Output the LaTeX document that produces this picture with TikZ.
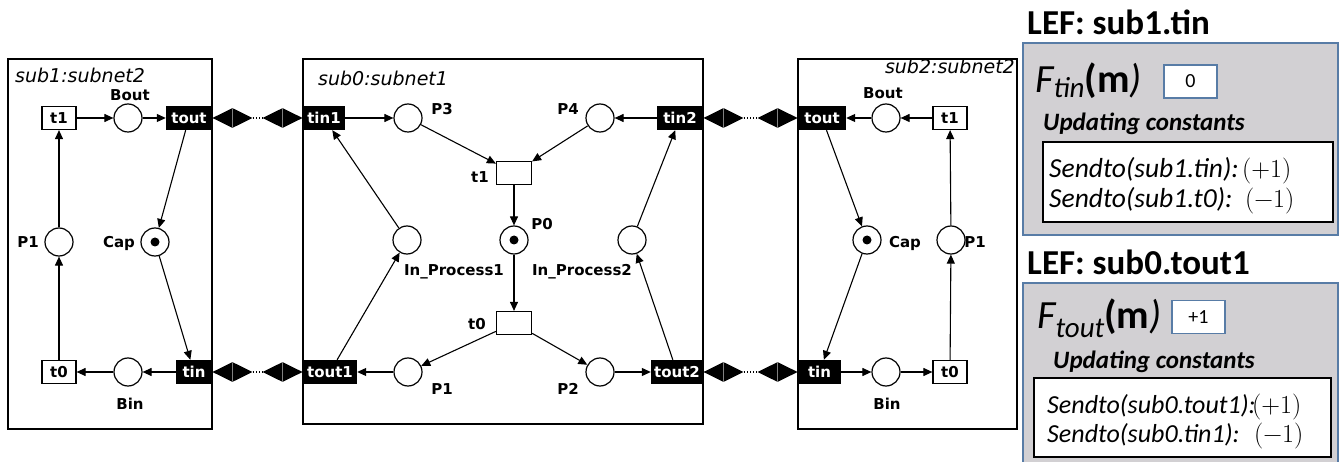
\documentclass[tikz,border=0pt]{standalone}
\usepackage[no-math]{fontspec}
\setmainfont{Carlito}
\newfontfamily\netfont{DejaVu Sans}
\newfontfamily\lmfont{Latin Modern Roman}
\usetikzlibrary{shapes.geometric,arrows.meta}
\newcommand\netlbl{\netfont\bfseries\fontsize{15}{15}\selectfont}
\newcommand\nettitle{\netfont\itshape\fontsize{19}{19}\selectfont}
\definecolor{lefgray}{RGB}{210,208,211}
\definecolor{lefblue}{RGB}{88,124,166}
\tikzset{
  place/.style={circle, draw, line width=1.2pt, minimum size=28pt, inner sep=0pt, fill=white},
  tokenplace/.style={place, path picture={\fill[black] (path picture bounding box.center) circle (4.5pt);}},
  trans/.style={rectangle, draw, line width=1.2pt, minimum width=34pt, minimum height=23pt, inner sep=0pt, fill=white, font=\netlbl},
  port/.style={rectangle, fill=black, text=white, minimum height=24pt, inner sep=0pt, font=\netlbl},
  lab/.style={font=\netlbl, inner sep=0pt, anchor=base},
  ttl/.style={font=\nettitle, inner sep=0pt},
  arc/.style={-{Triangle[length=9pt,width=8pt]}, line width=1.1pt},
  subnet/.style={draw, line width=1.3pt},
  link/.style={diamond, fill=black, minimum width=40pt, minimum height=20pt, inner sep=0pt,
    path picture={\draw[gray, line width=0.6pt] (path picture bounding box.north) -- (path picture bounding box.south);}},
  dots/.style={dotted, line width=1.2pt},
  lefbox/.style={fill=lefgray, draw=lefblue, line width=1.5pt},
  valbox/.style={draw=lefblue, fill=white, line width=1.5pt, minimum width=53pt, minimum height=33pt, inner sep=0pt, font=\fontsize{20}{20}\selectfont},
  constbox/.style={draw=black, fill=white, line width=1.3pt},
  leftitle/.style={anchor=base west, inner sep=0pt, font=\bfseries\fontsize{35}{35}\selectfont},
  upd/.style={anchor=base west, inner sep=0pt, font=\bfseries\itshape\fontsize{25}{25}\selectfont},
  sendlineA/.style={anchor=base west, inner sep=0pt, font=\itshape\fontsize{27.5}{27.5}\selectfont},
  sendlineB/.style={anchor=base west, inner sep=0pt, font=\itshape\fontsize{26}{26}\selectfont},
}
\newcommand\mathlike[1]{{\upshape\lmfont\fontsize{26}{26}\selectfont #1}}
\begin{document}
\begin{tikzpicture}[x=1pt,y=-1pt]
\clip (0,0) rectangle (1341,462);
\fill[white] (0,0) rectangle (1341,462);

% ---------- frames ----------
\draw[subnet] (8,59) rectangle (212,429);
\draw[subnet] (303,59) rectangle (703,424);
\draw[subnet] (798,59) rectangle (1017,429);
\node[ttl, anchor=base west] (Ltitle) at (15,83) {sub1:subnet2};
\node[ttl, anchor=base west] (Mtitle) at (318,86) {sub0:subnet1};
\node[ttl, anchor=base east] (Rtitle) at (1015,74) {sub2:subnet2};

% ---------- left subnet ----------
\node[trans] (Lt1) at (59,118) {t1};
\node[place] (LBout) at (128,118) {};
\node[port, minimum width=46pt] (Ltout) at (189,118) {tout};
\node[place] (LP1) at (59,242) {};
\node[tokenplace] (LCap) at (155,242) {};
\node[trans] (Lt0) at (59,372) {t0};
\node[place] (LBin) at (128,372) {};
\node[port, minimum width=36pt] (Ltin) at (194,372) {tin};
\node[lab] (LBoutl) at (130,101) {Bout};
\node[lab] (LP1l) at (28,247.5) {P1};
\node[lab] (LCapl) at (119,247.5) {Cap};
\node[lab] (LBinl) at (130,409) {Bin};
\draw[arc] (Lt0) -- (LP1);
\draw[arc] (LP1) -- (Lt1);
\draw[arc] (Lt1) -- (LBout);
\draw[arc] (LBout) -- (Ltout);
\draw[arc] (Ltout) -- (LCap);
\draw[arc] (LCap) -- (Ltin);
\draw[arc] (Ltin) -- (LBin);
\draw[arc] (LBin) -- (Lt0);

% ---------- middle subnet ----------
\node[port, minimum width=42pt] (Mtin1) at (324,118) {tin1};
\node[place] (MP3) at (408,118) {};
\node[place] (MP4) at (600,118) {};
\node[port, minimum width=46pt] (Mtin2) at (680,118) {tin2};
\node[trans, minimum width=35pt] (Mt1) at (514,173) {};
\node[tokenplace] (MP0) at (514,240) {};
\node[place] (MIP1) at (407,240) {};
\node[place] (MIP2) at (632,240) {};
\node[trans, minimum width=35pt] (Mt0) at (514,323) {};
\node[port, minimum width=54pt] (Mtout1) at (330,372) {tout1};
\node[place] (MP1) at (408,372) {};
\node[place] (MP2) at (600,372) {};
\node[port, minimum width=52pt] (Mtout2) at (677,372) {tout2};
\node[lab] (MP3l) at (442,115) {P3};
\node[lab] (MP4l) at (568,115) {P4};
\node[lab] (Mt1l) at (480,183) {t1};
\node[lab] (MP0l) at (542,230) {P0};
\node[lab] (MIP1l) at (454,276) {In\_Process1};
\node[lab] (MIP2l) at (582,276) {In\_Process2};
\node[lab] (Mt0l) at (477,329) {t0};
\node[lab] (MP1l) at (442,394) {P1};
\node[lab] (MP2l) at (568,394) {P2};
\draw[arc] (Mtin1) -- (MP3);
\draw[arc] (Mtin2) -- (MP4);
\draw[arc] (MP3) -- (Mt1);
\draw[arc] (MP4) -- (Mt1);
\draw[arc] (Mt1) -- (MP0);
\draw[arc] (MP0) -- (Mt0);
\draw[arc] (Mt0) -- (MP1);
\draw[arc] (Mt0) -- (MP2);
\draw[arc] (MP1) -- (Mtout1);
\draw[arc] (MP2) -- (Mtout2);
\draw[arc] (Mtout1) -- (MIP1);
\draw[arc] (Mtout2) -- (MIP2);
\draw[arc] (MIP1) -- (Mtin1);
\draw[arc] (MIP2) -- (Mtin2);

% ---------- right subnet ----------
\node[port, minimum width=48pt] (Rtout) at (822,118) {tout};
\node[place] (RBout) at (886,118) {};
\node[trans] (Rt1) at (950,118) {t1};
\node[tokenplace] (RCap) at (867,240) {};
\node[place] (RP1) at (951,240) {};
\node[port, minimum width=43pt] (Rtin) at (819.5,372) {tin};
\node[place] (RBin) at (886,372) {};
\node[trans] (Rt0) at (950,372) {t0};
\node[lab] (RBoutl) at (883,99) {Bout};
\node[lab] (RCapl) at (905,247.5) {Cap};
\node[lab] (RP1l) at (975,247.5) {P1};
\node[lab] (RBinl) at (887,409) {Bin};
\draw[arc] (Rt1) -- (RBout);
\draw[arc] (RBout) -- (Rtout);
\draw[arc] (Rtout) -- (RCap);
\draw[arc] (RCap) -- (Rtin);
\draw[arc] (Rtin) -- (RBin);
\draw[arc] (RBin) -- (Rt0);
\draw[arc] (Rt0) -- (RP1);
\draw[arc] (RP1) -- (Rt1);

% ---------- links between subnets ----------
\node[link, anchor=west] (dA1) at (Ltout.east) {};
\node[link, anchor=east] (dA2) at (Mtin1.west) {};
\draw[dots] (dA1.east) -- (dA2.west);
\node[link, anchor=west] (dB1) at (Ltin.east) {};
\node[link, anchor=east] (dB2) at (Mtout1.west) {};
\draw[dots] (dB1.east) -- (dB2.west);
\node[link, anchor=west] (dC1) at (Mtin2.east) {};
\node[link, anchor=east] (dC2) at (Rtout.west) {};
\draw[dots] (dC1.east) -- (dC2.west);
\node[link, anchor=west] (dD1) at (Mtout2.east) {};
\node[link, anchor=east] (dD2) at (Rtin.west) {};
\draw[dots] (dD1.east) -- (dD2.west);

% ---------- LEF panel 1 ----------
\node[leftitle] (lef1) at (1027,35) {LEF: sub1.tin};
\draw[lefbox] (1023,43) rectangle (1338,235);
\node[anchor=base west, inner sep=0pt] (F1) at (1035,93)
  {\fontsize{40}{40}\selectfont\itshape F\raisebox{-5pt}{\fontsize{29}{29}\selectfont tin}\upshape\bfseries(m\mdseries\itshape)};
\node[valbox] (v1) at (1190.5,81.5) {0};
\node[upd] (u1) at (1043,131) {Updating constants};
\draw[constbox] (1043,142) rectangle (1333,222);
\node[sendlineA] (s11) at (1049,178) {\makebox[193pt][l]{Sendto(sub1.tin):}\mathlike{(+1)}};
\node[sendlineA] (s12) at (1049,208) {\makebox[196pt][l]{Sendto(sub1.t0):}\mathlike{(−1)}};

% ---------- LEF panel 2 ----------
\node[leftitle] (lef2) at (1027,275) {LEF: sub0.tout1};
\draw[lefbox] (1023,283) rectangle (1338,475);
\node[anchor=base west, inner sep=0pt] (F2) at (1037,328)
  {\fontsize{40}{40}\selectfont\itshape F\raisebox{-9pt}{\fontsize{29}{29}\selectfont tout}\upshape\bfseries(m\mdseries\itshape)};
\node[valbox] (v2) at (1198.5,317) {+1};
\node[upd] (u2) at (1053,368) {Updating constants};
\draw[constbox] (1034,378) rectangle (1331,457);
\node[sendlineB] (s21) at (1047,413) {\makebox[205pt][l]{Sendto(sub0.tout1):}\mathlike{(+1)}};
\node[sendlineB] (s22) at (1047,442) {\makebox[207pt][l]{Sendto(sub0.tin1):}\mathlike{(−1)}};
\end{tikzpicture}
\end{document}
